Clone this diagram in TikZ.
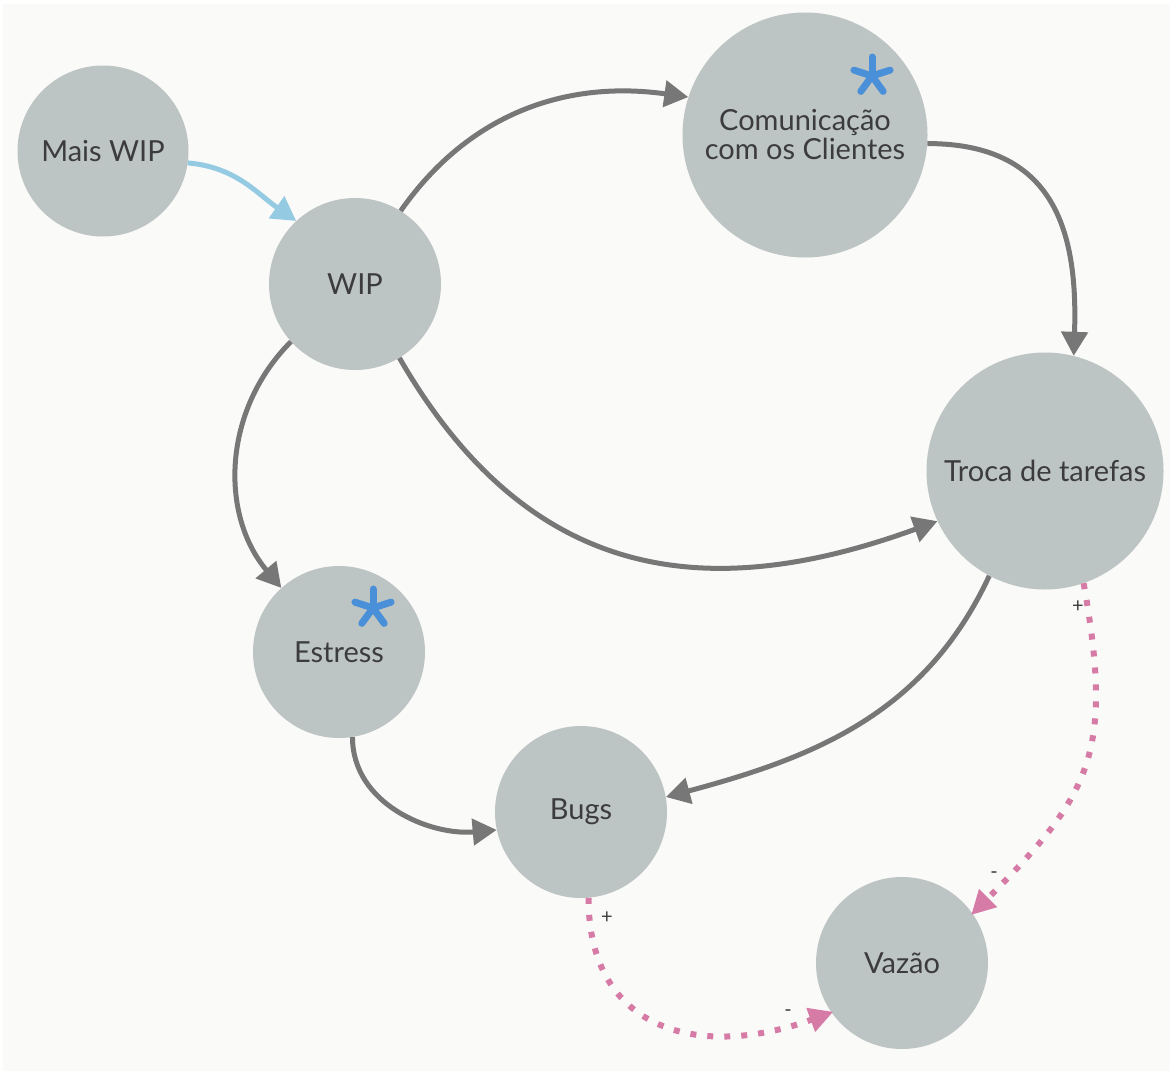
\documentclass[tikz,border=0pt]{standalone}
\usepackage{fontspec}
\setmainfont{Lato}
\usetikzlibrary{arrows.meta}
\definecolor{bgc}{HTML}{FAFAF8}
\definecolor{nodec}{HTML}{BDC4C4}
\definecolor{txtc}{HTML}{3C3C3C}
\definecolor{edgec}{HTML}{777777}
\definecolor{bluec}{HTML}{95CBE2}
\definecolor{pinkc}{HTML}{D67BA6}
\definecolor{starc}{HTML}{4A90D9}
\tikzset{
  circ/.style={circle, fill=nodec, draw=none, inner sep=0pt, minimum size=#1, text=txtc, font=\fontsize{29}{34}\selectfont, align=center},
  gedge/.style={draw=edgec, line width=5pt, -{Triangle[length=24pt,width=26pt]}},
  bedge/.style={draw=bluec, line width=5pt, -{Triangle[length=24pt,width=26pt]}},
  pedge/.style={draw=pinkc, line width=6pt, dash pattern=on 6pt off 11pt, -{Triangle[length=24pt,width=24pt,sep=-2pt]}},
  sgn/.style={text=txtc, font=\fontsize{20}{20}\selectfont, inner sep=0pt},
  spoke/.style={draw=starc, line width=7pt, line cap=round}
}
\newcommand{\mystar}[2]{%
  \foreach \a in {-90,-18,54,126,198} {\draw[spoke] (#1,#2) -- ++(\a:19);}%
}
\begin{document}
\begin{tikzpicture}[x=1pt,y=-1pt]
\fill[white] (0,0) rectangle (1170,1071);
\fill[bgc] (3,4) rectangle (1170,1071);
\useasboundingbox (0,0) rectangle (1170,1071);

\node[circ=171pt] (mais) at (103,151) {Mais WIP};
\node[circ=172pt] (wip) at (355,284) {WIP};
\node[circ=245pt] (com) at (805,135) {Comunicação\\[-5pt]com os Clientes};
\node[circ=237pt] (troca) at (1045,471) {Troca de tarefas};
\node[circ=172pt] (estress) at (339,652) {Estress};
\node[circ=172pt] (bugs) at (581,812) {Bugs};
\node[circ=172pt] (vazao) at (902,963) {Vazão};

\mystar{872}{76}
\mystar{373}{608}

\draw[bedge] (mais.-8) to[out=-5,in=145] (wip.133);
\draw[gedge] (wip.58) to[out=55,in=172] (com.162);
\draw[gedge] (com.-4) to[out=0,in=88,looseness=1.25] (troca.76);
\draw[gedge] (wip.222) to[out=225,in=130] (estress.132);
\draw[gedge] (wip.-59) to[out=-60,in=200,looseness=1.15] (troca.205);
\draw[gedge] (troca.242) to[out=245,in=15] (bugs.10);
\draw[gedge] (estress.-81) to[out=-90,in=185] (bugs.192);

\draw[pedge] (bugs.-85) to[out=-90,in=200,looseness=1.3] (vazao.215);
\draw[pedge] (troca.-71) to[out=-80,in=45,looseness=1.25] (vazao.35);

\node[sgn] (p1) at (607,918) {+};
\node[sgn] (m1) at (788,1013) {-};
\node[sgn] (p2) at (1078,607) {+};
\node[sgn] (m2) at (994,875) {-};
\end{tikzpicture}
\end{document}
